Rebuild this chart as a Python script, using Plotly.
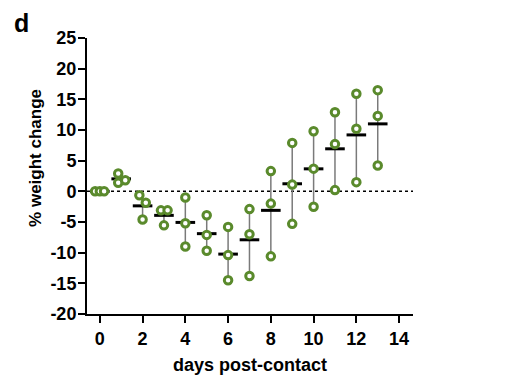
import numpy as np
import plotly.graph_objects as go

days = list(range(14))
animal_a = [0.0, 2.9, -0.65, -3.1, -1.0, -3.9, -5.8, -2.9, 3.3, 7.9, 9.8, 12.9, 15.9, 16.5]
animal_b = [0.0, 1.4, -1.85, -3.1, -5.2, -7.1, -10.4, -7.0, -2.0, 1.1, 3.7, 7.7, 10.2, 12.3]
animal_c = [0.0, 1.8, -4.6, -5.55, -9.0, -9.7, -14.5, -13.8, -10.6, -5.3, -2.5, 0.2, 1.5, 4.2]

# horizontal dodge of overlapping dots (style only)
dodge_a = [-0.22, -0.14, -0.15, -0.14] + [0] * 10
dodge_b = [0.0, -0.14, 0.15, 0.17] + [0] * 10
dodge_c = [0.2, 0.19, 0.0, 0.0] + [0] * 10

x_ticks = [0, 2, 4, 6, 8, 10, 12, 14]
y_ticks = [-20, -15, -10, -5, 0, 5, 10, 15, 20, 25]

vals = np.array([animal_a, animal_b, animal_c])
means = vals.mean(axis=0)
mins = vals.min(axis=0)
maxs = vals.max(axis=0)

GREEN = "#5a8a2c"
FONT = "Liberation Sans, Arial, sans-serif"

fig = go.Figure()

# range lines
lx, ly = [], []
for d, lo, hi in zip(days, mins, maxs):
    lx += [d, d, None]
    ly += [lo, hi, None]
fig.add_trace(go.Scatter(x=lx, y=ly, mode="lines",
                         line=dict(color="#7a7a7a", width=1.5),
                         hoverinfo="skip", showlegend=False))

# mean bars
fig.add_trace(go.Scatter(x=days, y=means, mode="markers",
                         marker=dict(symbol="line-ew", size=14,
                                     line=dict(color="black", width=3)),
                         showlegend=False))

# individual points
xs, ys = [], []
for series, dodge in ((animal_a, dodge_a), (animal_b, dodge_b), (animal_c, dodge_c)):
    xs += [d + o for d, o in zip(days, dodge)]
    ys += series
fig.add_trace(go.Scatter(x=xs, y=ys, mode="markers",
                         marker=dict(symbol="circle", size=7.5, color="white",
                                     line=dict(color=GREEN, width=3)),
                         showlegend=False))

fig.add_shape(type="line", xref="paper", yref="y", x0=0, x1=1, y0=0, y1=0,
              line=dict(color="black", width=1.5, dash="dot"), layer="below")

axis_common = dict(showgrid=False, zeroline=False, showline=True,
                   linecolor="black", linewidth=2, ticks="outside",
                   ticklen=7, tickwidth=2, tickcolor="black",
                   tickfont=dict(family=FONT, size=18, color="black", weight="bold"))

fig.update_xaxes(range=[-0.6, 14.65], tickvals=x_ticks,
                 ticktext=[str(v) for v in x_ticks], **axis_common)
fig.update_yaxes(range=[-20, 25], tickvals=y_ticks, ticklabelstandoff=-2,
                 ticktext=[str(v) for v in y_ticks], **axis_common)

fig.add_annotation(text="days post-contact", xref="paper", yref="paper",
                   x=0.5, y=-0.185, xanchor="center", yanchor="middle", showarrow=False,
                   font=dict(family=FONT, size=18, color="black", weight="bold"))
fig.add_annotation(text="% weight change", xref="paper", yref="paper",
                   x=-0.16, y=0.565, xanchor="center", yanchor="middle", showarrow=False,
                   textangle=-90,
                   font=dict(family=FONT, size=17, color="black", weight="bold"))
fig.add_annotation(text="d", xref="paper", yref="paper",
                   x=-0.202, y=1.1087, xanchor="center", yanchor="top", showarrow=False,
                   borderpad=0,
                   font=dict(family=FONT, size=25, color="black", weight="bold"))

fig.update_layout(width=500, height=370,
                  margin=dict(l=79, r=95, t=30, b=64),
                  paper_bgcolor="white", plot_bgcolor="white",
                  showlegend=False)

fig.write_html("out.html")
